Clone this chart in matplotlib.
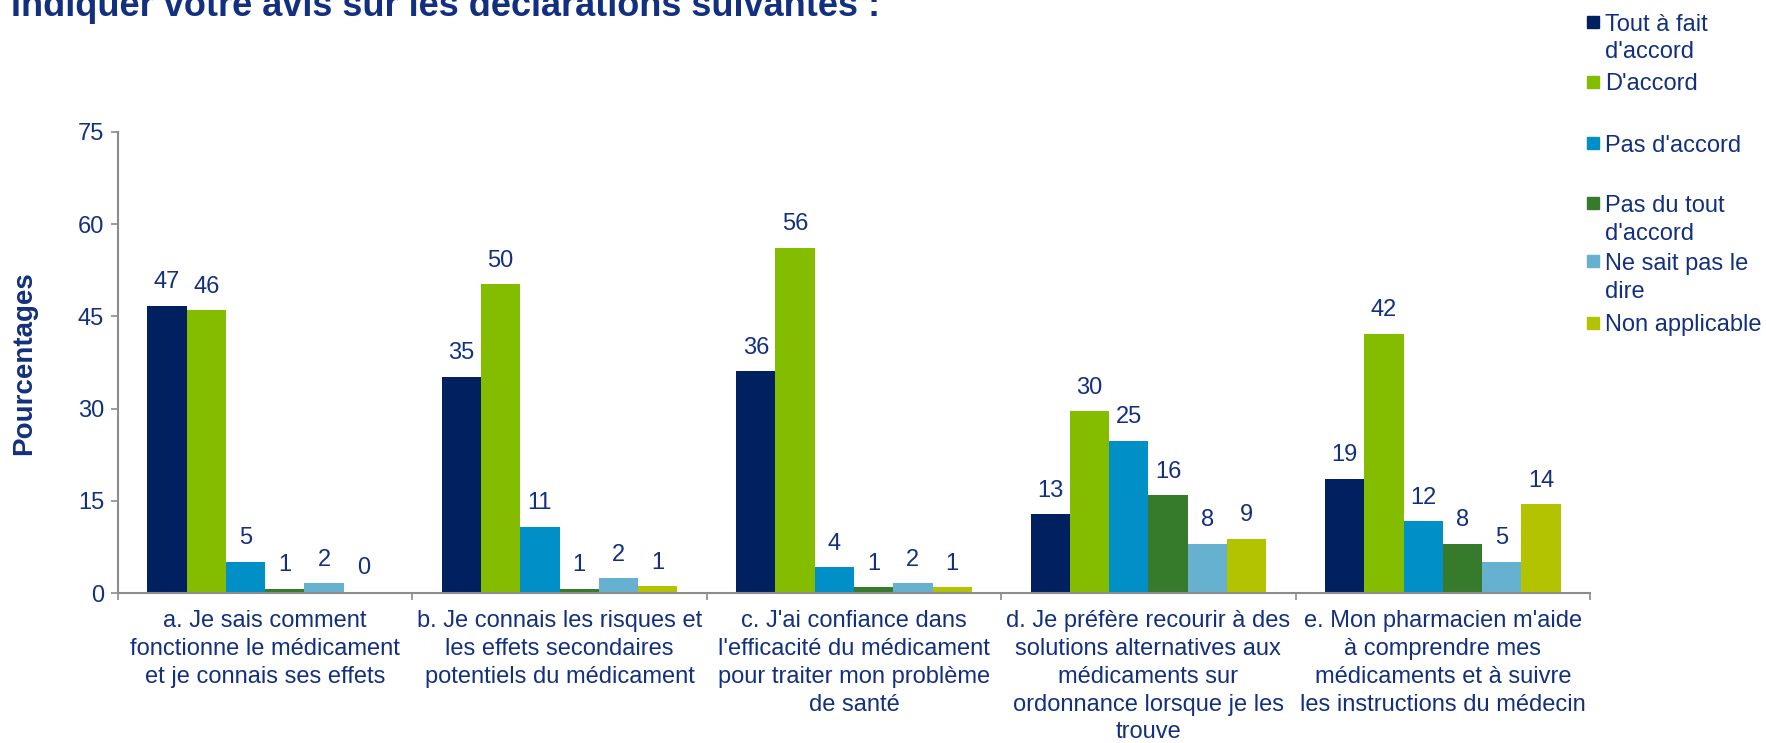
import numpy as np
import matplotlib
matplotlib.use("Agg")
import matplotlib.pyplot as plt
from matplotlib.patches import Rectangle

plt.rcParams["font.family"] = ["Liberation Sans", "DejaVu Sans"]

# Data (percentages)
categories = [
    "a. Je sais comment\nfonctionne le médicament\net je connais ses effets",
    "b. Je connais les risques et\nles effets secondaires\npotentiels du médicament",
    "c. J'ai confiance dans\nl'efficacité du médicament\npour traiter mon problème\nde santé",
    "d. Je préfère recourir à des\nsolutions alternatives aux\nmédicaments sur\nordonnance lorsque je les\ntrouve",
    "e. Mon pharmacien m'aide\nà comprendre mes\nmédicaments et à suivre\nles instructions du médecin",
]
series_names = ["Tout à fait\nd'accord", "D'accord", "Pas d'accord",
                "Pas du tout\nd'accord", "Ne sait pas le\ndire", "Non applicable"]
tout_a_fait = [46.7, 35.2, 36.1, 12.8, 18.6]
d_accord = [46.0, 50.2, 56.2, 29.6, 42.2]
pas_d_accord = [5.1, 10.8, 4.2, 24.8, 11.7]
pas_du_tout = [0.7, 0.7, 0.9, 15.9, 8.0]
ne_sait_pas = [1.6, 2.4, 1.6, 8.0, 5.1]
non_applicable = [0.2, 1.1, 0.9, 8.8, 14.4]
yticks = [0, 15, 30, 45, 60, 75]

series = [tout_a_fait, d_accord, pas_d_accord, pas_du_tout, ne_sait_pas, non_applicable]
colors = ["#002060", "#84BC00", "#008FC6", "#367B2B", "#66B1D0", "#B4C300"]
TXT = "#12307F"
AX = "#8C8C8C"
FS = 17
LS = 1.35      # line spacing, about 28 px per line
LINE_PX = 28

fig = plt.figure(figsize=(17.66, 7.43), dpi=100)
W, H = 1766.0, 743.0
ax = fig.add_axes([118 / W, 1 - 593 / H, (1590 - 118) / W, (593 - 132) / H])

x = np.arange(len(categories))
n = len(series)
w = 0.8 / n
for i, (vals, col) in enumerate(zip(series, colors)):
    bars = ax.bar(x + (i - (n - 1) / 2) * w, vals, w, color=col, edgecolor="none")
    for b, v in zip(bars, vals):
        ax.annotate("%.0f" % v, (b.get_x() + b.get_width() / 2, v),
                    xytext=(0, 9), textcoords="offset points",
                    ha="center", va="bottom", fontsize=FS, color=TXT)

ax.set_xlim(-0.5, len(categories) - 0.5)
ax.set_ylim(0, 75)
ax.set_yticks(yticks)
ax.set_yticklabels([str(t) for t in yticks], fontsize=FS, color=TXT)
ax.tick_params(axis="y", length=5, width=1.2, color=AX, pad=5)

ax.set_xticks(np.arange(len(categories) + 1) - 0.5)
ax.set_xticklabels([])
ax.tick_params(axis="x", which="major", length=5, width=1.2, color=AX)
ax.set_xticks(x, minor=True)
ax.set_xticklabels(categories, minor=True, fontsize=FS, color=TXT, linespacing=LS)
ax.tick_params(axis="x", which="minor", length=0, pad=12)

for s in ["top", "right"]:
    ax.spines[s].set_visible(False)
for s in ["left", "bottom"]:
    ax.spines[s].set_color(AX)
    ax.spines[s].set_linewidth(1.5)

fig.text(24 / W, 1 - 363 / H, "Pourcentages", rotation=90, fontsize=20,
         fontweight="bold", color=TXT, ha="center", va="center")

fig.text(11 / W, 1 - 16 / H, "Indiquer votre avis sur les déclarations suivantes :",
         fontsize=26, fontweight="bold", color=TXT, va="baseline", ha="left")

# legend drawn by hand so the marker sits on the first line of each entry
leg_centers = [22, 82, 143, 203, 261, 323]
for name, col, cy in zip(series_names, colors, leg_centers):
    fig.patches.append(Rectangle((1587 / W, 1 - (cy + 6) / H), 12 / W, 12 / H,
                                 transform=fig.transFigure, color=col))
    nlines = name.count("\n")
    fig.text(1605 / W, 1 - (cy + 8.5 + nlines * LINE_PX) / H, name, fontsize=FS,
             color=TXT, va="baseline", ha="left", linespacing=LS)

fig.savefig("out.png", dpi=100, facecolor="white")
